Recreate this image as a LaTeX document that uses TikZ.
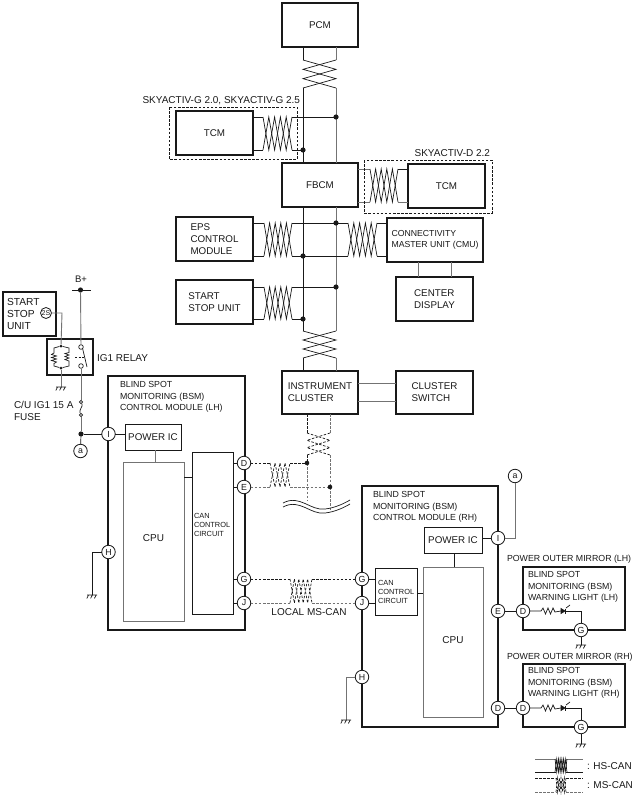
\documentclass[tikz,border=0pt]{standalone}
\usepackage{fontspec}
\setmainfont{Liberation Sans}
\usetikzlibrary{calc}
\definecolor{busgray}{gray}{0.45}
\definecolor{ink}{gray}{0.1}
\tikzset{
  x=1pt,y=-1pt,
  boxthick/.style={draw=ink,line width=1.3pt,inner sep=0pt,outer sep=0pt,align=left,text=ink,font=\fontsize{9.8}{12}\selectfont},
  boxthin/.style={draw=ink,line width=0.8pt,inner sep=0pt,outer sep=0pt,align=left,text=ink,font=\fontsize{9.8}{12}\selectfont},
  boxgray/.style={draw=busgray,line width=0.9pt,inner sep=0pt,outer sep=0pt,align=left,text=ink,font=\fontsize{9.8}{12}\selectfont},
  wire/.style={draw=ink,line width=0.7pt},
  gwire/.style={draw=busgray,line width=0.9pt},
  frame/.style={draw=ink,line width=1.3pt},
  dwire/.style={draw=ink,line width=0.7pt,dash pattern=on 2.5pt off 1.6pt},
  gdwire/.style={draw=busgray,line width=0.9pt,dash pattern=on 2.5pt off 1.6pt},
  optbox/.style={draw=ink,line width=0.6pt,dash pattern=on 2.5pt off 1.6pt},
  pin/.style={circle,draw=ink,line width=0.8pt,fill=white,minimum size=13.5pt,inner sep=0pt,outer sep=0pt,text=ink,font=\fontsize{8.8}{10}\selectfont},
  dot/.style={circle,fill=ink,inner sep=0pt,minimum size=5.2pt},
  tiny contact/.style={circle,draw=ink,line width=0.7pt,fill=white,inner sep=0pt,minimum size=4.6pt},
  lab/.style={inner sep=0pt,outer sep=0pt,anchor=west,align=left,text=ink,font=\fontsize{8.8}{11.6}\selectfont},
  biglab/.style={lab,font=\fontsize{10}{12}\selectfont},
  canlab/.style={lab,font=\fontsize{7.4}{9.3}\selectfont},
}
% named box: name, x1,y1,x2,y2, style, text
\newcommand{\bx}[7]{\node[#6,minimum width={(#4-(#2))*1pt},minimum height={(#5-(#3))*1pt}] (#1) at ({(#2+#4)/2},{(#3+#5)/2}) {#7};}
% twisted pairs: n, a1, a2, b1, b2, style
\newcommand{\vtw}[6]{\draw[#6] plot[samples at={0,1,...,#1}] ({#2+mod(\x,2)*(#3-#2)},{#4+\x*(#5-#4)/#1});
  \draw[#6] plot[samples at={0,1,...,#1}] ({#3-mod(\x,2)*(#3-#2)},{#4+\x*(#5-#4)/#1});}
\newcommand{\htw}[6]{\draw[#6] plot[samples at={0,1,...,#1}] ({#2+\x*(#3-#2)/#1},{#4+mod(\x,2)*(#5-#4)});
  \draw[#6] plot[samples at={0,1,...,#1}] ({#2+\x*(#3-#2)/#1},{#5-mod(\x,2)*(#5-#4)});}
\newcommand{\gnd}[2]{\draw[wire] (#1-5,#2) -- (#1+5,#2)
  (#1-3.4,#2) -- (#1-5.2,#2+3.4) (#1+.4,#2) -- (#1-1.4,#2+3.4) (#1+4.2,#2) -- (#1+2.4,#2+3.4);}
\begin{document}
\begin{tikzpicture}
\useasboundingbox (0,0) rectangle (638,795);
% ---- top boxes
\bx{pcm}{282}{3}{358}{47}{boxthick}{PCM}
\bx{fbcm}{282}{163}{358}{207}{boxthick}{FBCM}
\bx{tcml}{176}{111}{253}{155}{boxthick}{TCM}
\bx{tcmr}{408}{164}{485}{208}{boxthick}{TCM}
\bx{eps}{176}{217}{253}{261}{boxthick}{EPS\\CONTROL\\MODULE}
\bx{cmu}{387}{218}{483}{262}{boxthick,font=\fontsize{8.7}{11.6}\selectfont}{CONNECTIVITY\\MASTER UNIT (CMU)}
\bx{ssu}{176}{280}{253}{324}{boxthick}{START\\STOP UNIT}
\bx{center}{396}{277}{473}{321}{boxthick}{CENTER\\DISPLAY}
\bx{ic}{282}{371}{358}{414}{boxthick}{INSTRUMENT\\CLUSTER}
\bx{switch}{396}{371}{473}{414}{boxthick}{CLUSTER\\SWITCH}
% ---- bus junctions
\coordinate (t1a) at (303,60); \coordinate (t1b) at (336,60);
\coordinate (t2a) at (303,88); \coordinate (t2b) at (336,88);
\coordinate (t3a) at (303,331); \coordinate (t3b) at (336,331);
\coordinate (t4a) at (303,358); \coordinate (t4b) at (336,358);
\coordinate (j1) at (336,117);
\coordinate (j2) at (303,150);
\coordinate (j3) at (336,223);
\coordinate (j4) at (303,256);
\coordinate (j5) at (336,287);
\coordinate (j6) at (303,319);
% ---- bus
\draw[wire] (pcm.south -| t1a) -- (t1a);
\draw[gwire] (pcm.south -| t1b) -- (t1b);
\vtw{3}{303}{336}{60}{88}{wire}
\draw[wire] (t2a) -- (fbcm.north -| t2a);
\draw[gwire] (t2b) -- (fbcm.north -| t2b);
\draw[wire] (fbcm.south -| t2a) -- (t3a);
\draw[gwire] (fbcm.south -| t2b) -- (t3b);
\vtw{3}{303}{336}{331}{358}{wire}
\draw[wire] (t4a) -- (ic.north -| t4a);
\draw[gwire] (t4b) -- (ic.north -| t4b);
% ---- TCM left
\draw[wire] (tcml.east |- j1) -- (263,117) (292,117) -- (j1);
\draw[wire] (tcml.east |- j2) -- (263,150) (292,150) -- (j2);
\htw{5}{263}{292}{117}{150}{wire}
\draw[optbox] (169,107) rectangle (297,159);
\node[biglab,anchor=east] (skyg) at (300,101) {SKYACTIV-G 2.0, SKYACTIV-G 2.5};
% ---- TCM right
\draw[gwire] (fbcm.east |- 0,169) -- (370,169);
\draw[gwire] (fbcm.east |- 0,202) -- (370,202);
\draw[wire] (398,169) -- (tcmr.west |- 0,169);
\draw[gwire] (398,202) -- (tcmr.west |- 0,202);
\htw{5}{370}{398}{169}{202}{wire}
\draw[optbox] (364,160) rectangle (492,213);
\node[biglab,anchor=east] (skyd) at (490,153) {SKYACTIV-D 2.2};
% ---- EPS
\draw[wire] (eps.east |- j3) -- (264,223) (292,223) -- (j3);
\draw[wire] (eps.east |- j4) -- (264,256) (292,256) -- (j4);
\htw{5}{264}{292}{223}{256}{wire}
% ---- CMU
\draw[wire] (j3) -- (348,223) (377,223) -- (cmu.west |- j3);
\draw[wire] (j4) -- (348,256) (377,256) -- (cmu.west |- j4);
\htw{5}{348}{377}{223}{256}{wire}
\draw[gwire] (cmu.south -| 418,0) -- (center.north -| 418,0);
\draw[gwire] (cmu.south -| 451,0) -- (center.north -| 451,0);
% ---- SSU
\draw[wire] (ssu.east |- j5) -- (264,287) (292,287) -- (j5);
\draw[wire] (ssu.east |- j6) -- (264,319) (292,319) -- (j6);
\htw{5}{264}{292}{287}{319}{wire}
% dots on top of wires
\foreach \d in {j1,j2,j3,j4,j5,j6} \fill[ink] (\d) circle[radius=2.6];
% ---- cluster switch
\draw[gwire] (ic.east |- 0,383) -- (switch.west |- 0,383);
\draw[gwire] (ic.east |- 0,401) -- (switch.west |- 0,401);
% ---- left supply
\bx{ssu2}{3}{292}{56}{336}{boxthick}{}
\node[biglab,font=\fontsize{10.2}{12}\selectfont] (ssu2t) at (7,314) {START\\STOP\\UNIT};
\node[pin,minimum size=11pt,font=\fontsize{7}{8}\selectfont] (p2s) at (46,313) {2S};
\bx{relay}{47}{339}{93}{375}{boxthick}{}
\node[biglab] (relayt) at (97,358) {IG1 RELAY};
\node[lab,anchor=center,font=\fontsize{9.5}{10}\selectfont] (bp) at (81,279) {B+};
\node[dot] (bpd) at (80.5,290) {};
\coordinate (bpl) at (72,290); \coordinate (bpr) at (91,290);
\draw[wire] (bpl) -- (bpr);
\node[tiny contact] (k1) at (81,347) {};
\node[tiny contact] (k2) at (81,366) {};
\draw[gwire] (bpd) -- (k1);
\draw[wire] (82.6,348.5) -- (87,367);
\draw[wire,dash pattern=on 2pt off 1.5pt] (75,357) -- (84,357);
\node[dot,minimum size=3pt] (c1) at (61,346) {};
\node[dot,minimum size=3pt] (c2) at (61,368) {};
\draw[gwire] (p2s.east) -- (62,313) -- (c1);
\draw[wire] (c1) -- (54,348) -- (54,353)
  -- (51.5,354.5) -- (56.5,356) -- (51.5,357.5) -- (56.5,359) -- (51.5,360.5) -- (56.5,362) -- (54,363.5)
  -- (54,366) -- (c2);
\draw[wire] (c1) -- (69,348) -- (69,352.5) -- (65,353.5) -- (69,355) -- (65,356.5) -- (69,358) -- (65,359.5) -- (69,361) -- (69,366) -- (c2);
\coordinate (g1) at (61,387);
\draw[gwire] (c2) -- (g1);
\gnd{61}{387}
\node[tiny contact,minimum size=3.2pt] (f1) at (81,402) {};
\node[tiny contact,minimum size=3.2pt] (f2) at (81,415) {};
\draw[gwire] (k2) -- (f1);
\draw[wire] (f1) .. controls (83.5,406) and (78.5,410) .. (f2);
\node[biglab] (fuset) at (14,411) {C/U IG1 15 A\\FUSE};
\node[dot] (ja) at (81,434) {};
\draw[gwire] (f2) -- (ja);
\node[pin] (aL) at (80.5,451) {a};
\draw[wire] (ja) -- (aL);
% ---- LH module
\draw[frame] (108,376) rectangle (245,630);
\node[lab] (lhT) at (120,397) {BLIND SPOT\\MONITORING (BSM)\\CONTROL MODULE (LH)};
\node[pin] (pI) at (108.5,434) {I};
\node[pin] (pHL) at (108.5,552) {H};
\bx{piL}{125}{424}{181}{450}{boxthin}{POWER IC}
\bx{cpuL}{123}{462}{184}{621}{boxgray}{}
\node[biglab,anchor=center] (cpuLt) at (153.5,538) {CPU};
\bx{canL}{192}{452}{233}{614}{boxthin}{}
\node[canlab] (canLt) at (194,525) {CAN\\CONTROL\\CIRCUIT};
\node[pin] (pD) at (244,463) {D};
\node[pin] (pE) at (244,487) {E};
\node[pin] (pG) at (244,579) {G};
\node[pin] (pJ) at (244,603) {J};
\draw[wire] (ja) -- (pI);
\draw[wire] (pI) -- (piL.west |- pI);
\draw[gwire] (piL.south -| 155,0) -- (cpuL.north -| 155,0);
\draw[wire] (cpuL.east |- 0,477) -- (canL.west |- 0,477);
\draw[wire] (canL.east |- pD) -- (pD);
\draw[wire] (canL.east |- pE) -- (pE);
\draw[wire] (canL.east |- pG) -- (pG);
\draw[wire] (canL.east |- pJ) -- (pJ);
\coordinate (g2) at (92,595);
\draw[wire] (pHL) -- (92,552) -- (g2);
\gnd{92}{595}
% ---- dashed CAN near cluster
\coordinate (j7) at (307,463);
\coordinate (j8) at (330,487);
\draw[dwire] (ic.south -| j7) -- (307,433) (307,455) -- (j7);
\draw[gdwire] (ic.south -| j8) -- (330,433) (330,455) -- (j8);
\vtw{3}{307}{330}{433}{455}{dwire}
\draw[dwire] (pD) -- (270,463) (290,463) -- (j7);
\draw[gdwire] (pE) -- (270,487) (290,487) -- (j8);
\htw{4}{270}{290}{463}{487}{dwire}
\draw[gdwire] (j7) -- (307,500);
\draw[gdwire] (j8) -- (330,510);
\foreach \d in {j7,j8} \fill[ink] (\d) circle[radius=2.3];
% break mark
\draw[wire] (283,503) .. controls (300,494) and (310,511) .. (325,509) .. controls (335,508) and (345,503) .. (350,500);
\draw[wire] (283,507) .. controls (300,498) and (310,515) .. (325,513) .. controls (335,512) and (345,507) .. (350,504);
% ---- RH module
\draw[frame] (362,486) rectangle (498,727);
\node[lab] (rhT) at (373,507) {BLIND SPOT\\MONITORING (BSM)\\CONTROL MODULE (RH)};
\bx{piR}{424}{527}{482}{553}{boxthin}{POWER IC}
\bx{cpuR}{423}{567}{483}{717}{boxgray}{}
\node[biglab,anchor=center] (cpuRt) at (453,640) {CPU};
\bx{canR}{375}{568}{417}{615}{boxthin}{}
\node[canlab] (canRt) at (378,592) {CAN\\CONTROL\\CIRCUIT};
\node[pin] (qG) at (362,579) {G};
\node[pin] (qJ) at (362,603) {J};
\node[pin] (qI) at (498,538) {I};
\node[pin] (qH) at (362,677) {H};
\node[pin] (qE) at (498,611) {E};
\node[pin] (qD) at (498,708) {D};
\node[pin] (aR) at (515,476) {a};
\draw[wire] (piR.east |- qI) -- (qI);
\draw[gwire] (qI) -- (515,538) -- (aR);
\draw[wire] (piR.south -| 454,0) -- (cpuR.north -| 454,0);
\draw[wire] (canR.east |- 0,593) -- (cpuR.west |- 0,593);
\draw[wire] (qG) -- (canR.west |- qG);
\draw[wire] (qJ) -- (canR.west |- qJ);
\coordinate (g3) at (346,720);
\draw[gwire] (qH) -- (346,677) -- (g3);
\gnd{346}{720}
% ---- local MS-CAN
\draw[dwire] (pG) -- (290,579) (312,579) -- (qG);
\draw[gdwire] (pJ) -- (290,603) (312,603) -- (qJ);
\htw{5}{290}{312}{579}{603}{dwire}
\node[biglab,anchor=center] (local) at (309,612) {LOCAL MS-CAN};
% ---- mirror LH
\node[lab] (mlT) at (507,559) {POWER OUTER MIRROR (LH)};
\draw[frame] (523,567) rectangle (625,630);
\node[lab] (mlB) at (528,587) {BLIND SPOT\\MONITORING (BSM)\\WARNING LIGHT (LH)};
\node[pin] (mlD) at (523,611) {D};
\node[pin] (mlG) at (581,630) {G};
\draw[wire] (qE) -- (mlD);
\draw[wire] (mlD) -- (541,611) -- (543,608) -- (545.5,614) -- (548,608) -- (550.5,614) -- (553,608) -- (555,612) -- (561,611);
\draw[wire,fill=ink] (561,608.5) -- (561,613.5) -- (565,611) -- cycle;
\draw[wire] (565,608.5) -- (565,613.5) (565,611) -- (581,611) -- (mlG);
\draw[wire] (566,608) -- (570,605);
\coordinate (g4) at (581,645);
\draw[wire] (mlG) -- (g4);
\gnd{581}{645}
% ---- mirror RH
\node[lab] (mrT) at (507,657) {POWER OUTER MIRROR (RH)};
\draw[frame] (523,664) rectangle (625,727);
\node[lab] (mrB) at (528,683) {BLIND SPOT\\MONITORING (BSM)\\WARNING LIGHT (RH)};
\node[pin] (mrD) at (523,708) {D};
\node[pin] (mrG) at (581,727) {G};
\draw[wire] (qD) -- (mrD);
\draw[wire] (mrD) -- (541,708) -- (543,705) -- (545.5,711) -- (548,705) -- (550.5,711) -- (553,705) -- (555,709) -- (561,708);
\draw[wire,fill=ink] (561,705.5) -- (561,710.5) -- (565,708) -- cycle;
\draw[wire] (565,705.5) -- (565,710.5) (565,708) -- (581,708) -- (mrG);
\draw[wire] (566,705) -- (570,702);
\coordinate (g5) at (581,744);
\draw[wire] (mrG) -- (g5);
\gnd{581}{744}
% ---- legend
\coordinate (h1) at (535,759); \coordinate (h2) at (583,759);
\coordinate (h3) at (535,772); \coordinate (h4) at (583,772);
\draw[gwire] (h1) -- (556,759) (566,759) -- (h2);
\draw[wire] (h3) -- (556,772) (566,772) -- (h4);
\htw{7}{555}{567}{759}{772}{wire}
\node[biglab] (hsT) at (587,766) {: HS-CAN};
\coordinate (m1) at (535,778); \coordinate (m2) at (583,778);
\coordinate (m3) at (535,792); \coordinate (m4) at (583,792);
\draw[dwire] (m1) -- (556,778) (566,778) -- (m2);
\draw[gdwire] (m3) -- (556,792) (566,792) -- (m4);
\htw{6}{556}{566}{778}{792}{dwire}
\node[biglab] (msT) at (587,785) {: MS-CAN};
\end{tikzpicture}
\end{document}
